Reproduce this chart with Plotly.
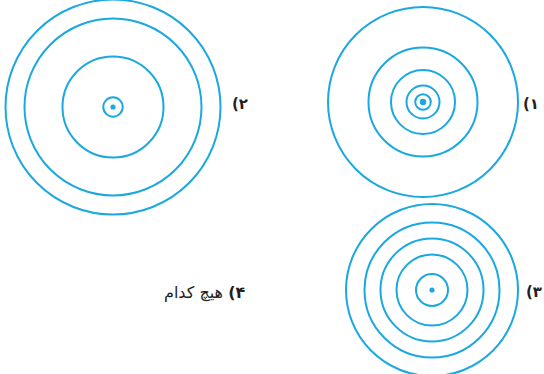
import plotly.graph_objects as go

# Data: concentric ring radii (px units of the drawing) for each option
option_labels = ["۱)", "۲)", "۳)"]
centers_x = [423, 113, 432]
centers_y = [102, 107, 290]
ring_radii = [
    [95, 54.5, 32, 16.5, 7.8],      # option 1
    [107.5, 88.5, 50.5, 9.7],       # option 2
    [86, 67.5, 51.5, 35.5, 16],     # option 3
]
dot_radii = [3.2, 2.6, 2.6]
label_x = [541, 250, 544]
label_y = [104, 104, 292]
none_label = "هیچ کدام"
none_x, none_y = 247, 292

COLOR = "#1ba8e0"
RLE, PDF = "\u202b", "\u202c"

fig = go.Figure()
shapes = []
for cx, cy, radii, dr in zip(centers_x, centers_y, ring_radii, dot_radii):
    for r in radii:
        shapes.append(dict(type="circle", xref="x", yref="y",
                           x0=cx - r, x1=cx + r, y0=cy - r, y1=cy + r,
                           line=dict(color=COLOR, width=2)))
    shapes.append(dict(type="circle", xref="x", yref="y",
                       x0=cx - dr, x1=cx + dr, y0=cy - dr, y1=cy + dr,
                       line=dict(color=COLOR, width=0), fillcolor=COLOR))

annotations = []
for lab, lx, ly in zip(option_labels, label_x, label_y):
    annotations.append(dict(x=lx, y=ly, xref="x", yref="y",
                            text="<b>" + RLE + lab + PDF + "</b>",
                            showarrow=False, xanchor="right", yanchor="middle",
                            font=dict(family="DejaVu Sans", size=15, color="#231f20")))
annotations.append(dict(x=none_x, y=none_y, xref="x", yref="y",
                        text="<b>" + RLE + "۴)</b> " + none_label + PDF,
                        showarrow=False, xanchor="right", yanchor="middle",
                        font=dict(family="DejaVu Sans", size=16, color="#231f20")))

fig.update_layout(
    width=544, height=374,
    margin=dict(l=0, r=0, t=0, b=0),
    paper_bgcolor="white", plot_bgcolor="white",
    xaxis=dict(range=[0, 544], visible=False, fixedrange=True),
    yaxis=dict(range=[374, 0], visible=False, fixedrange=True),
    shapes=shapes, annotations=annotations, showlegend=False,
)
fig.write_html("out.html", config={"displayModeBar": False},
               post_script="document.body.style.margin='0';document.body.style.overflow='hidden';")
